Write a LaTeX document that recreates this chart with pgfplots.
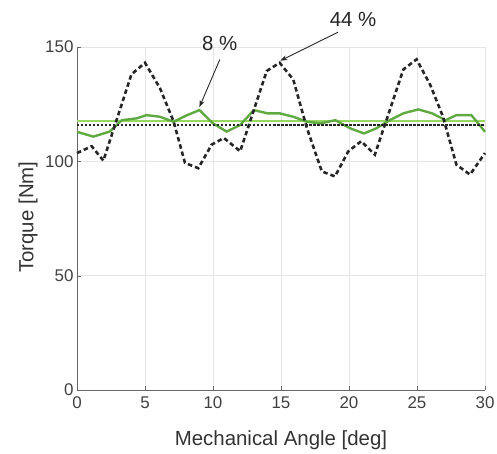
\documentclass[border=0pt]{standalone}
\usepackage{pgfplots}
\pgfplotsset{compat=1.18}
\usepackage{fontspec}
\setmainfont{Liberation Sans}
\usetikzlibrary{arrows.meta}
\definecolor{wavegreen}{RGB}{95,170,65}
\definecolor{flatgreen}{RGB}{150,215,100}
\begin{document}
\begin{tikzpicture}
\begin{axis}[
 scale only axis, width=408bp, height=343bp,
 xmin=0,xmax=30,ymin=0,ymax=150,
 xtick={0,5,...,30}, ytick={0,50,100,150},
 axis x line*=bottom, axis y line*=left,
 grid=major, major grid style={black!10, line width=0.6bp},
 tick align=inside, major tick length=4bp,
 tick style={black!60},
 tick label style={font=\fontsize{17}{17}\selectfont, text=black!75},
 xticklabel style={yshift=-3bp},
 label style={font=\fontsize{20.5}{21}\selectfont, text=black!80},
 xlabel={Mechanical Angle [deg]}, ylabel={Torque [Nm]},
 xlabel style={at={(axis description cs:0.5,-0.146)}, anchor=center},
 ylabel style={at={(axis description cs:-0.12,0.504)}, anchor=center, rotate=0},
 /pgf/number format/assume math mode=true,
 clip=false,
 axis line style={black!60, line width=0.8bp},
]
\addplot[flatgreen, line width=2.2bp] coordinates {(0,117.8) (30,117.8)};
\addplot[wavegreen, line width=2.4bp] coordinates {
(0,112.9) (1.2,110.8) (2.4,113) (3.3,118) (4.4,118.8) (5.1,120.2) (6.1,119.5)
(7.1,117.3) (8.1,120.2) (9.0,122.4) (10,116.6) (11,113) (12,115.9) (13,122.4)
(14,121) (14.9,121) (15.9,119.5) (16.9,117.3) (17.9,116.6) (19,118) (20.1,114.4)
(21.1,112.2) (22,114.4) (23,118) (24,121) (25.1,122.7) (26.1,121) (27.1,118)
(27.9,120.2) (29,120.2) (30,112.9)};
\addplot[black!85, line width=2bp, dash pattern=on 2.5bp off 1.5bp] coordinates {(0,115.8) (30,115.8)};
\addplot[black!85, line width=2.6bp, dash pattern=on 4.5bp off 3bp] coordinates {
(0,103.6) (1.08,106.6) (1.94,100.3) (4.0,138) (5.0,143.1) (6.1,132) (7.1,117.5)
(7.94,99.3) (8.92,97) (9.9,107.3) (10.8,110.2) (12.0,104.4) (13.95,139.5) (14.9,143.1)
(15.9,135.8) (16.9,114.6) (18.0,95.6) (18.97,93.4) (19.95,104.4) (20.9,108.8)
(21.9,102.9) (24.0,140.2) (24.97,144.6) (25.96,133.6) (26.9,119.7) (27.9,98.5)
(28.9,94.2) (30,103.6)};
\draw[-{Stealth[length=7bp,width=5bp]}, black!85, line width=0.9bp] (axis cs:10.5,144.5) -- (axis cs:9.0,123.7);
\node[font=\fontsize{20.5}{21}\selectfont, text=black!85] at (axis cs:10.5,151.7) {8 \%};
\draw[-{Stealth[length=7bp,width=5bp]}, black!85, line width=0.9bp] (axis cs:19.2,156.5) -- (axis cs:14.95,144);
\node[font=\fontsize{20.5}{21}\selectfont, text=black!85] at (axis cs:20.3,162) {44 \%};
\end{axis}
\pgfresetboundingbox
\path ([shift={(-77bp,-64bp)}]current axis.south west) rectangle ([shift={(12bp,47bp)}]current axis.north east);
\end{tikzpicture}
\end{document}
